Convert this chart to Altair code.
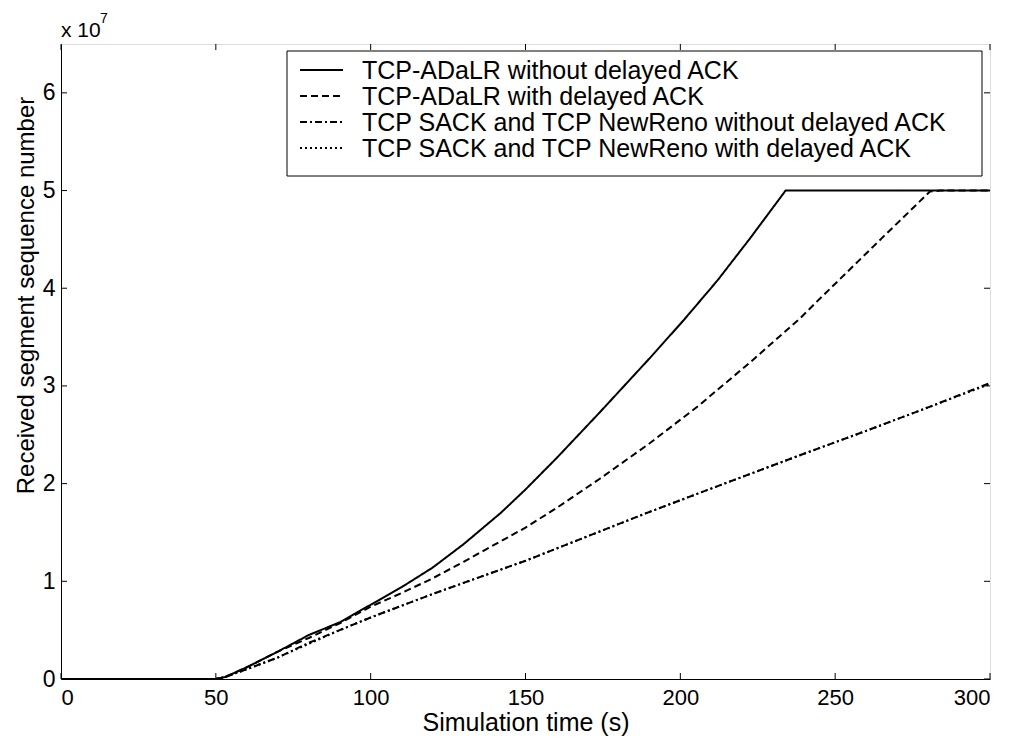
import altair as alt
import pandas as pd

# ---- data (y in units of 10^7) ----
series_names = [
    "TCP-ADaLR without delayed ACK",
    "TCP-ADaLR with delayed ACK",
    "TCP SACK and TCP NewReno without delayed ACK",
    "TCP SACK and TCP NewReno with delayed ACK",
]

t_adalr = [0, 50, 53, 60, 70, 80, 90, 100, 110, 120, 130, 142, 150, 160, 174, 190, 201, 212, 222.5, 234, 300]
y_adalr = [0, 0, 0.02, 0.12, 0.28, 0.45, 0.58, 0.76, 0.94, 1.14, 1.38, 1.70, 1.94, 2.26, 2.73, 3.28, 3.67, 4.08, 4.51, 5.0, 5.0]

t_adalr_d = [0, 50, 53, 60, 70, 80, 90, 100, 110, 120, 130, 142, 150, 160, 174, 190, 206, 222.5, 238.6, 244, 265, 280.6, 284, 300]
y_adalr_d = [0, 0, 0.02, 0.12, 0.28, 0.42, 0.57, 0.74, 0.88, 1.03, 1.20, 1.41, 1.55, 1.75, 2.05, 2.41, 2.80, 3.24, 3.69, 3.86, 4.51, 4.99, 5.0, 5.0]

t_sack = [0, 50, 53, 60, 70, 80, 90, 100, 110, 120, 142, 150, 170, 190, 210, 238.6, 260, 280, 300]
y_sack = [0, 0, 0.02, 0.10, 0.22, 0.37, 0.50, 0.63, 0.75, 0.87, 1.12, 1.21, 1.46, 1.71, 1.95, 2.29, 2.54, 2.78, 3.03]

t_sack_d = [0, 50, 53, 60, 70, 80, 90, 100, 110, 120, 142, 150, 170, 190, 210, 238.6, 260, 280, 300]
y_sack_d = [0, 0, 0.02, 0.10, 0.22, 0.36, 0.50, 0.63, 0.75, 0.87, 1.12, 1.21, 1.46, 1.71, 1.95, 2.29, 2.54, 2.78, 3.02]

x_ticks = [0, 50, 100, 150, 200, 250, 300]
y_ticks = [0, 1, 2, 3, 4, 5, 6]

dash_styles = [[1, 0], [7, 4], [7, 3, 2, 3], [2, 3]]

# ---- build table ----
rows = []
for name, ts, ys in zip(series_names,
                        [t_adalr, t_adalr_d, t_sack, t_sack_d],
                        [y_adalr, y_adalr_d, y_sack, y_sack_d]):
    for t, y in zip(ts, ys):
        rows.append({"series": name, "t": t, "y": y})
df = pd.DataFrame(rows)

W, H = 929, 635
FONT = "Liberation Sans"

xscale = alt.Scale(domain=[0, 300], nice=False, zero=False)
yscale = alt.Scale(domain=[0, 6.5], nice=False)

layers = []
for i, name in enumerate(series_names):
    sub = df[df["series"] == name]
    ln = alt.Chart(sub).mark_line(strokeWidth=2, color="black", clip=True,
                                  strokeDash=dash_styles[i]).encode(
        x=alt.X("t:Q", scale=xscale,
                axis=alt.Axis(values=x_ticks, ticks=False, grid=False, domainColor="black",
                              labelFontSize=22, labelPadding=8, labelFont=FONT, labelColor="black",
                              title="Simulation time (s)", titleFontSize=25, titleFont=FONT,
                              titleFontWeight="normal", titlePadding=2, titleColor="black")),
        y=alt.Y("y:Q", scale=yscale,
                axis=alt.Axis(values=y_ticks, format="d", ticks=False, grid=False,
                              domainColor="black", labelFontSize=23, labelPadding=6,
                              labelFont=FONT, labelColor="black",
                              title="Received segment sequence number", titleFontSize=24,
                              titleFont=FONT, titleFontWeight="normal", titlePadding=4,
                              titleY=251, titleColor="black")),
    )
    layers.append(ln)

# ticks pointing inward on all four sides (MATLAB style)
xt_df = pd.DataFrame({"t": x_ticks})
yt_df = pd.DataFrame({"y": y_ticks})
layers.append(alt.Chart(xt_df).mark_rule(color="black", strokeWidth=1).encode(
    x=alt.X("t:Q", scale=xscale), y=alt.value(H), y2=alt.value(H - 6)))
layers.append(alt.Chart(xt_df).mark_rule(color="black", strokeWidth=1).encode(
    x=alt.X("t:Q", scale=xscale), y=alt.value(0), y2=alt.value(6)))
layers.append(alt.Chart(yt_df).mark_rule(color="black", strokeWidth=1).encode(
    y=alt.Y("y:Q", scale=yscale), x=alt.value(0), x2=alt.value(6)))
layers.append(alt.Chart(yt_df).mark_rule(color="black", strokeWidth=1).encode(
    y=alt.Y("y:Q", scale=yscale), x=alt.value(W), x2=alt.value(W - 6)))

# exponent label
layers.append(alt.Chart(pd.DataFrame({"s": ["x 10"]})).mark_text(
    fontSize=21, font=FONT, color="black", align="left", baseline="alphabetic").encode(
    text="s:N", x=alt.value(0), y=alt.value(-7)))
layers.append(alt.Chart(pd.DataFrame({"s": ["7"]})).mark_text(
    fontSize=14, font=FONT, color="black", align="left", baseline="alphabetic").encode(
    text="s:N", x=alt.value(39), y=alt.value(-21)))

# legend box
LX0, LX1, LY0, LY1 = 226, 921, 7, 132
layers.append(alt.Chart(pd.DataFrame({"k": [0]})).mark_rect(
    fill="white", stroke="black", strokeWidth=1).encode(
    x=alt.value(LX0), x2=alt.value(LX1), y=alt.value(LY0), y2=alt.value(LY1)))
for i, name in enumerate(series_names):
    yc = 26 + 26 * i
    layers.append(alt.Chart(pd.DataFrame({"k": [0]})).mark_rule(
        color="black", strokeWidth=2, strokeDash=dash_styles[i]).encode(
        x=alt.value(239), x2=alt.value(282), y=alt.value(yc)))
    layers.append(alt.Chart(pd.DataFrame({"s": [name]})).mark_text(
        fontSize=25, font=FONT, color="black", align="left", baseline="middle").encode(
        text="s:N", x=alt.value(301), y=alt.value(yc + 1)))

chart = alt.layer(*layers).properties(
    width=W, height=H,
    padding={"left": 61, "top": 44, "right": 26, "bottom": 61},
    autosize="none",
).configure_view(stroke="black", strokeWidth=1).configure(background="white")

chart.save("out.html", embed_options={"renderer": "svg", "actions": False})
